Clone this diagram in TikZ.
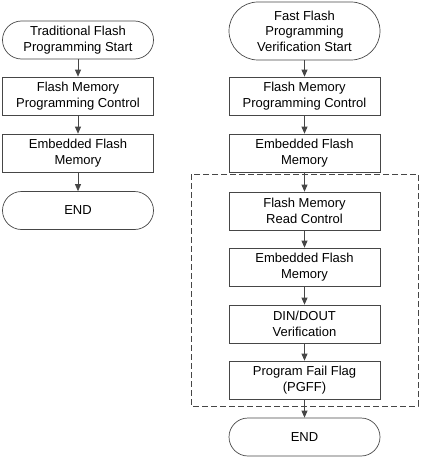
\documentclass[tikz,border=0pt]{standalone}
\usepackage{fontspec}
\setmainfont{Liberation Sans}
\usetikzlibrary{arrows.meta}
\definecolor{linegray}{RGB}{70,70,70}
\begin{document}
\begin{tikzpicture}[x=1pt,y=-1pt,
        block/.style={draw=linegray,line width=0.7pt,minimum width=151pt,
            minimum height=38pt,inner sep=0pt,align=center,
            font=\fontsize{13}{15.5}\selectfont},
        term/.style={block,rounded corners=19pt},
        flow/.style={draw=linegray,line width=0.7pt,
            -{Triangle[length=7pt,width=6pt]}}]
    \useasboundingbox (0,0) rectangle (422,460);

% traditional flow
\node[term]  (tstart) at (78,40)    {Traditional Flash\\Programming Start};
\node[block] (tprog)  at (78,96)    {Flash Memory\\Programming Control};
\node[block] (tmem)   at (78,153)   {Embedded Flash\\Memory};
\node[term]  (tend)   at (78,210.5) {END};

% fast verification flow
\node[term,minimum height=58pt,rounded corners=29pt] (fstart) at (304.5,31)
    {Fast Flash\\Programming\\Verification Start};
\node[block] (fprog) at (304.5,96)  {Flash Memory\\Programming Control};
\node[block] (fmem)  at (304.5,153) {Embedded Flash\\Memory};
\node[block] (fread) at (304.5,211) {Flash Memory\\Read Control};
\node[block] (fmem2) at (304.5,267) {Embedded Flash\\Memory};
\node[block] (fver)  at (304.5,324) {DIN/DOUT\\Verification};
\node[block] (fpgff) at (304.5,380) {Program Fail Flag\\(PGFF)};
\node[term]  (fend)  at (304.5,437) {END};

\draw[linegray,line width=0.7pt,dash pattern=on 6pt off 3pt]
    (191,174) rectangle (418,406);

\draw[flow] (tstart) -- (tprog);
\draw[flow] (tprog) -- (tmem);
\draw[flow] (tmem) -- (tend);

\draw[flow] (fstart) -- (fprog);
\draw[flow] (fprog) -- (fmem);
\draw[flow] (fmem) -- (fread);
\draw[flow] (fread) -- (fmem2);
\draw[flow] (fmem2) -- (fver);
\draw[flow] (fver) -- (fpgff);
\draw[flow] (fpgff) -- (fend);
\end{tikzpicture}
\end{document}
